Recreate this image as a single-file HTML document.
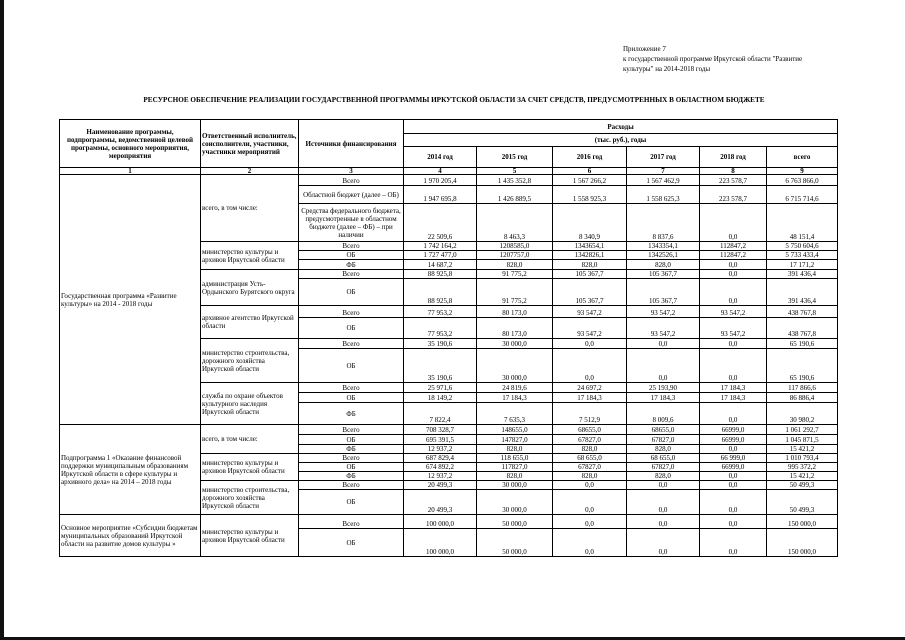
<!DOCTYPE html>
<html><head><meta charset="utf-8"><style>
body{margin:0;width:905px;height:640px;background:#fff;position:relative;overflow:hidden;font-family:"Liberation Serif","DejaVu Serif",serif;color:#000}
.note{position:absolute;left:623px;top:44px;font-size:7px;line-height:10px}
.title{position:absolute;left:60px;width:788px;top:96px;text-align:center;font-size:7.2px;font-weight:bold;white-space:nowrap}
table{position:absolute;left:59px;top:119px;border-collapse:collapse;table-layout:fixed;font-size:7px}
td{border:1px solid #000;padding:0 1px;line-height:8px;overflow:hidden;text-align:center;vertical-align:bottom;white-space:nowrap}
.h td{font-weight:bold;vertical-align:middle}
td.l{text-align:left;vertical-align:middle;white-space:normal}
td.s{vertical-align:middle;white-space:normal}
.bar{position:absolute;left:0;top:637px;width:905px;height:3px;background:#111}
.lbar{position:absolute;left:0;top:0;width:4px;height:640px;background:#111}
</style></head><body>
<div class="lbar"></div>
<div class="note">Приложение 7<br>к государственной программе Иркутской области "Развитие<br>культуры" на 2014-2018 годы</div>
<div class="title">РЕСУРСНОЕ ОБЕСПЕЧЕНИЕ РЕАЛИЗАЦИИ ГОСУДАРСТВЕННОЙ ПРОГРАММЫ ИРКУТСКОЙ ОБЛАСТИ ЗА СЧЕТ СРЕДСТВ, ПРЕДУСМОТРЕННЫХ В ОБЛАСТНОМ БЮДЖЕТЕ</div>
<table>
<colgroup><col style="width:141px"><col style="width:98px"><col style="width:105px"><col style="width:73px"><col style="width:76px"><col style="width:74px"><col style="width:73px"><col style="width:67px"><col style="width:71px"></colgroup>
<tr class="h" style="height:14px"><td rowspan="3" class="s" style="white-space:normal">Наименование программы, подпрограммы, ведомственной целевой программы, основного мероприятия, мероприятия</td><td rowspan="3" class="l" style="font-weight:bold">Ответственный исполнитель, соисполнители, участники, участники мероприятий</td><td rowspan="3">Источники финансирования</td><td colspan="6">Расходы</td></tr>
<tr class="h" style="height:13px"><td colspan="6">(тыс. руб.), годы</td></tr>
<tr class="h" style="height:21px"><td>2014 год</td><td>2015 год</td><td>2016 год</td><td>2017 год</td><td>2018 год</td><td>всего</td></tr>
<tr class="h" style="height:7px;line-height:6px"><td style="line-height:6px">1</td><td style="line-height:6px">2</td><td style="line-height:6px">3</td><td style="line-height:6px">4</td><td style="line-height:6px">5</td><td style="line-height:6px">6</td><td style="line-height:6px">7</td><td style="line-height:6px">8</td><td style="line-height:6px">9</td></tr>

<tr style="height:11px"><td rowspan="15" class="l">Государственная программа «Развитие культуры» на 2014 - 2018 годы</td><td rowspan="3" class="l">всего, в том числе:</td><td>Всего</td><td>1 970 205,4</td><td>1 435 352,8</td><td>1 567 266,2</td><td>1 567 462,9</td><td>223 578,7</td><td>6 763 866,0</td></tr>
<tr style="height:18px"><td class="s">Областной бюджет (далее – ОБ)</td><td>1 947 695,8</td><td>1 426 889,5</td><td>1 558 925,3</td><td>1 558 625,3</td><td>223 578,7</td><td>6 715 714,6</td></tr>
<tr style="height:38px"><td class="s">Средства федерального бюджета, предусмотренные в областном бюджете (далее – ФБ) – при наличии</td><td>22 509,6</td><td>8 463,3</td><td>8 340,9</td><td>8 837,6</td><td>0,0</td><td>48 151,4</td></tr>
<tr style="height:9px"><td rowspan="3" class="l">министерство культуры и архивов Иркутской области</td><td>Всего</td><td>1 742 164,2</td><td>1208585,0</td><td>1343654,1</td><td>1343354,1</td><td>112847,2</td><td>5 750 604,6</td></tr>
<tr style="height:8px"><td>ОБ</td><td>1 727 477,0</td><td>1207757,0</td><td>1342826,1</td><td>1342526,1</td><td>112847,2</td><td>5 733 433,4</td></tr>
<tr style="height:10px"><td>ФБ</td><td>14 687,2</td><td>828,0</td><td>828,0</td><td>828,0</td><td>0,0</td><td>17 171,2</td></tr>
<tr style="height:9px"><td rowspan="2" class="l">администрация Усть-Ордынского Бурятского округа</td><td>Всего</td><td>88 925,8</td><td>91 775,2</td><td>105 367,7</td><td>105 367,7</td><td>0,0</td><td>391 436,4</td></tr>
<tr style="height:27px"><td class="s">ОБ</td><td>88 925,8</td><td>91 775,2</td><td>105 367,7</td><td>105 367,7</td><td>0,0</td><td>391 436,4</td></tr>
<tr style="height:12px"><td rowspan="2" class="l">архивное агентство Иркутской области</td><td>Всего</td><td>77 953,2</td><td>80 173,0</td><td>93 547,2</td><td>93 547,2</td><td>93 547,2</td><td>438 767,8</td></tr>
<tr style="height:21px"><td class="s">ОБ</td><td>77 953,2</td><td>80 173,0</td><td>93 547,2</td><td>93 547,2</td><td>93 547,2</td><td>438 767,8</td></tr>
<tr style="height:10px"><td rowspan="2" class="l">министерство строительства, дорожного хозяйства Иркутской области</td><td>Всего</td><td>35 190,6</td><td>30 000,0</td><td>0,0</td><td>0,0</td><td>0,0</td><td>65 190,6</td></tr>
<tr style="height:34px"><td class="s">ОБ</td><td>35 190,6</td><td>30 000,0</td><td>0,0</td><td>0,0</td><td>0,0</td><td>65 190,6</td></tr>
<tr style="height:10px"><td rowspan="3" class="l">служба по охране объектов культурного наследия Иркутской области</td><td>Всего</td><td>25 971,6</td><td>24 819,6</td><td>24 697,2</td><td>25 193,90</td><td>17 184,3</td><td>117 866,6</td></tr>
<tr style="height:10px"><td>ОБ</td><td>18 149,2</td><td>17 184,3</td><td>17 184,3</td><td>17 184,3</td><td>17 184,3</td><td>86 886,4</td></tr>
<tr style="height:22px"><td class="s">ФБ</td><td>7 822,4</td><td>7 635,3</td><td>7 512,9</td><td>8 009,6</td><td>0,0</td><td>30 980,2</td></tr>

<tr style="height:10px"><td rowspan="8" class="l">Подпрограмма 1 «Оказание финансовой поддержки муниципальным образованиям Иркутской области в сфере культуры и архивного дела» на 2014 – 2018 годы</td><td rowspan="3" class="l">всего, в том числе:</td><td>Всего</td><td>708 328,7</td><td>148655,0</td><td>68655,0</td><td>68655,0</td><td>66999,0</td><td>1 061 292,7</td></tr>
<tr style="height:10px"><td>ОБ</td><td>695 391,5</td><td>147827,0</td><td>67827,0</td><td>67827,0</td><td>66999,0</td><td>1 045 871,5</td></tr>
<tr style="height:9px"><td>ФБ</td><td>12 937,2</td><td>828,0</td><td>828,0</td><td>828,0</td><td>0,0</td><td>15 421,2</td></tr>
<tr style="height:9px"><td rowspan="3" class="l">министерство культуры и архивов Иркутской области</td><td>Всего</td><td>687 829,4</td><td>118 655,0</td><td>68 655,0</td><td>68 655,0</td><td>66 999,0</td><td>1 010 793,4</td></tr>
<tr style="height:9px"><td>ОБ</td><td>674 892,2</td><td>117827,0</td><td>67827,0</td><td>67827,0</td><td>66999,0</td><td>995 372,2</td></tr>
<tr style="height:9px"><td>ФБ</td><td>12 937,2</td><td>828,0</td><td>828,0</td><td>828,0</td><td>0,0</td><td>15 421,2</td></tr>
<tr style="height:9px"><td rowspan="2" class="l">министерство строительства, дорожного хозяйства Иркутской области</td><td>Всего</td><td>20 499,3</td><td>30 000,0</td><td>0,0</td><td>0,0</td><td>0,0</td><td>50 499,3</td></tr>
<tr style="height:25px"><td class="s">ОБ</td><td>20 499,3</td><td>30 000,0</td><td>0,0</td><td>0,0</td><td>0,0</td><td>50 499,3</td></tr>

<tr style="height:14px"><td rowspan="2" class="l">Основное мероприятие «Субсидии бюджетам муниципальных образований Иркутской области на развитие домов культуры »</td><td rowspan="2" class="l">министерство культуры и архивов Иркутской области</td><td>Всего</td><td>100 000,0</td><td>50 000,0</td><td>0,0</td><td>0,0</td><td>0,0</td><td>150 000,0</td></tr>
<tr style="height:28px"><td class="s">ОБ</td><td>100 000,0</td><td>50 000,0</td><td>0,0</td><td>0,0</td><td>0,0</td><td>150 000,0</td></tr>
</table>
<div class="bar"></div>
</body></html>
